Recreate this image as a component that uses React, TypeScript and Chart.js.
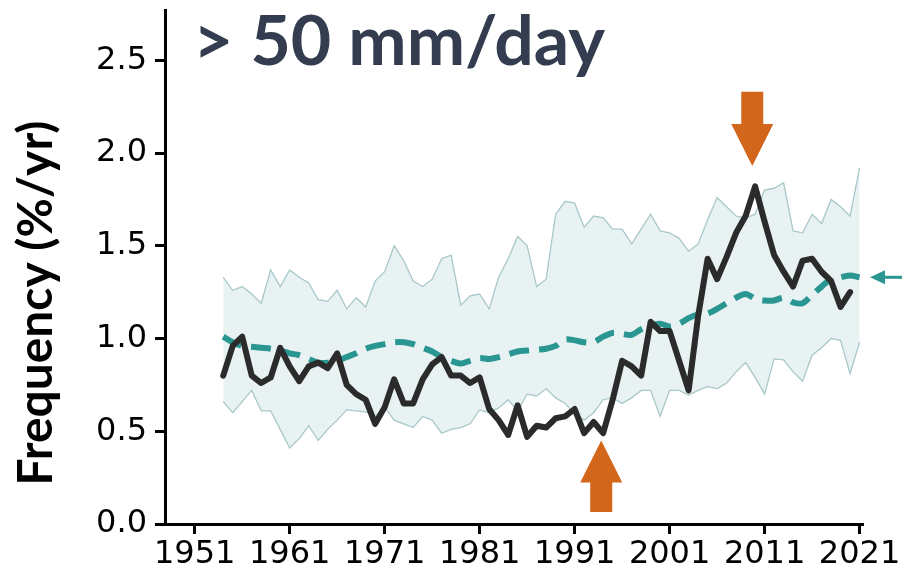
import React, { useEffect, useRef } from 'react';
import { Chart, registerables } from 'chart.js';

Chart.register(...registerables);

// ---------- data ----------
const bandYears = [
  1954, 1955, 1956, 1957, 1958, 1959, 1960, 1961, 1962, 1963,
  1964, 1965, 1966, 1967, 1968, 1969, 1970, 1971, 1972, 1973,
  1974, 1975, 1976, 1977, 1978, 1979, 1980, 1981, 1982, 1983,
  1984, 1985, 1986, 1987, 1988, 1989, 1990, 1991, 1992, 1993,
  1994, 1995, 1996, 1997, 1998, 1999, 2000, 2001, 2002, 2003,
  2004, 2005, 2006, 2007, 2008, 2009, 2010, 2011, 2012, 2013,
  2014, 2015, 2016, 2017, 2018, 2019, 2020, 2021,
];

const observedYears = [
  1954, 1955, 1956, 1957, 1958, 1959, 1960, 1961, 1962, 1963,
  1964, 1965, 1966, 1967, 1968, 1969, 1970, 1971, 1972, 1973,
  1974, 1975, 1976, 1977, 1978, 1979, 1980, 1981, 1982, 1983,
  1984, 1985, 1986, 1987, 1988, 1989, 1990, 1991, 1992, 1993,
  1994, 1995, 1996, 1997, 1998, 1999, 2000, 2001, 2002, 2003,
  2004, 2005, 2006, 2007, 2008, 2009, 2010, 2011, 2012, 2013,
  2014, 2015, 2016, 2017, 2018, 2019, 2020,
];

const bandUpper = [
  1.33, 1.26, 1.28, 1.24, 1.19, 1.37, 1.28, 1.37, 1.33, 1.30,
  1.21, 1.20, 1.26, 1.16, 1.22, 1.17, 1.31, 1.36, 1.50, 1.42,
  1.31, 1.28, 1.32, 1.43, 1.45, 1.18, 1.23, 1.24, 1.16, 1.33,
  1.43, 1.55, 1.50, 1.28, 1.32, 1.67, 1.74, 1.73, 1.60, 1.66,
  1.65, 1.59, 1.59, 1.51, 1.59, 1.67, 1.58, 1.57, 1.54, 1.47,
  1.51, 1.64, 1.76, 1.71, 1.66, 1.65, 1.67, 1.80, 1.81, 1.84,
  1.58, 1.57, 1.67, 1.62, 1.75, 1.71, 1.66, 1.92,
];

const bandLower = [
  0.66, 0.60, 0.66, 0.72, 0.61, 0.61, 0.51, 0.41, 0.46, 0.53,
  0.45, 0.51, 0.56, 0.615, 0.61, 0.605, 0.58, 0.63, 0.56, 0.54,
  0.52, 0.58, 0.56, 0.49, 0.51, 0.52, 0.54, 0.615, 0.60, 0.625,
  0.67, 0.61, 0.70, 0.69, 0.73, 0.68, 0.65, 0.59, 0.56, 0.60,
  0.67, 0.68, 0.65, 0.68, 0.72, 0.72, 0.58, 0.72, 0.72, 0.695,
  0.72, 0.74, 0.73, 0.76, 0.82, 0.87, 0.79, 0.70, 0.89, 0.885,
  0.82, 0.77, 0.91, 0.95, 1.00, 0.99, 0.81, 0.98,
];

const modelMedian = [
  1.01, 0.98, 0.96, 0.955, 0.95, 0.945, 0.935, 0.92, 0.91, 0.89,
  0.87, 0.87, 0.88, 0.90, 0.92, 0.945, 0.96, 0.97, 0.98, 0.98,
  0.97, 0.95, 0.93, 0.90, 0.88, 0.865, 0.88, 0.895, 0.89, 0.90,
  0.915, 0.93, 0.935, 0.94, 0.945, 0.96, 0.995, 0.99, 0.98, 0.98,
  1.01, 1.03, 1.025, 1.02, 1.05, 1.07, 1.08, 1.065, 1.08, 1.11,
  1.13, 1.135, 1.16, 1.19, 1.22, 1.24, 1.215, 1.205, 1.205, 1.22,
  1.195, 1.19, 1.235, 1.28, 1.32, 1.33, 1.34, 1.33,
];

const observed = [
  0.80, 0.96, 1.01, 0.80, 0.76, 0.79, 0.95, 0.85, 0.77, 0.85,
  0.87, 0.84, 0.92, 0.75, 0.70, 0.67, 0.54, 0.63, 0.78, 0.65,
  0.65, 0.78, 0.86, 0.90, 0.80, 0.80, 0.76, 0.79, 0.62, 0.56,
  0.48, 0.64, 0.47, 0.53, 0.52, 0.57, 0.58, 0.62, 0.49, 0.55,
  0.49, 0.67, 0.88, 0.85, 0.80, 1.09, 1.04, 1.04, 0.88, 0.72,
  1.12, 1.43, 1.32, 1.44, 1.57, 1.66, 1.82, 1.63, 1.45, 1.36,
  1.28, 1.42, 1.43, 1.36, 1.31, 1.17, 1.25,
];

const xTickYears = [1951, 1961, 1971, 1981, 1991, 2001, 2011, 2021];
const yTickValues = [0, 0.5, 1.0, 1.5, 2.0, 2.5];

const titleText = '> 50 mm/day';
const yAxisTitle = 'Frequency (%/yr)';

// annotation anchors (data units)
const upArrow = { year: 1993.8, tip: 0.45, tail: 0.065 };
const downArrow = { year: 2009.7, tip: 1.93, tail: 2.33 };
const sideArrowValue = 1.33;

// ---------- styles ----------
const TEAL = '#2a9692';
const BLACK = '#2b2b2b';
const BAND_FILL = '#e8f2f3';
const BAND_EDGE = '#a9c8c8';
const ORANGE = '#d2661a';
const TITLE_COLOR = '#333d4f';
const TEXT_FAMILY = 'Lato, "DejaVu Sans", sans-serif';
const TICK_FAMILY = '"DejaVu Sans", sans-serif';

function fitFont(ctx: CanvasRenderingContext2D, text: string, family: string, targetW: number) {
  ctx.font = `bold 50px ${family}`;
  const w = ctx.measureText(text).width;
  return (50 * targetW) / w;
}

function blockArrow(ctx: CanvasRenderingContext2D, cx: number, tipY: number, tailY: number) {
  const dir = tailY > tipY ? 1 : -1; // 1: pointing up
  const headLen = 42;
  const headHalf = 21;
  const shaftHalf = 11;
  const baseY = tipY + dir * headLen;
  ctx.beginPath();
  ctx.moveTo(cx, tipY);
  ctx.lineTo(cx + headHalf, baseY);
  ctx.lineTo(cx + shaftHalf, baseY);
  ctx.lineTo(cx + shaftHalf, tailY);
  ctx.lineTo(cx - shaftHalf, tailY);
  ctx.lineTo(cx - shaftHalf, baseY);
  ctx.lineTo(cx - headHalf, baseY);
  ctx.closePath();
  ctx.fill();
}

const annotations = {
  id: 'annotations',
  afterDraw(chart: any) {
    const { ctx, chartArea, scales } = chart;
    const x = scales.x;
    const y = scales.y;
    ctx.save();

    // title
    const tSize = fitFont(ctx, titleText, TEXT_FAMILY, 412);
    ctx.font = `bold ${tSize}px ${TEXT_FAMILY}`;
    ctx.fillStyle = TITLE_COLOR;
    ctx.textAlign = 'left';
    ctx.textBaseline = 'alphabetic';
    ctx.fillText(titleText, 193, 65);

    // y axis title
    const ySize = fitFont(ctx, yAxisTitle, TEXT_FAMILY, 365);
    ctx.save();
    ctx.translate(52, 303);
    ctx.rotate(-Math.PI / 2);
    ctx.font = `bold ${ySize}px ${TEXT_FAMILY}`;
    ctx.fillStyle = '#000';
    ctx.textAlign = 'center';
    ctx.textBaseline = 'alphabetic';
    ctx.fillText(yAxisTitle, 0, 0);
    ctx.restore();

    // orange arrows
    ctx.fillStyle = ORANGE;
    blockArrow(ctx, x.getPixelForValue(upArrow.year), y.getPixelForValue(upArrow.tip), y.getPixelForValue(upArrow.tail));
    blockArrow(ctx, x.getPixelForValue(downArrow.year), y.getPixelForValue(downArrow.tip), y.getPixelForValue(downArrow.tail));

    // small teal arrow on the right
    const ay = y.getPixelForValue(sideArrowValue);
    const tipX = chartArea.right + 7;
    ctx.fillStyle = TEAL;
    ctx.strokeStyle = TEAL;
    ctx.beginPath();
    ctx.moveTo(tipX, ay);
    ctx.lineTo(tipX + 15, ay - 7);
    ctx.lineTo(tipX + 15, ay + 7);
    ctx.closePath();
    ctx.fill();
    ctx.lineWidth = 3;
    ctx.beginPath();
    ctx.moveTo(tipX + 12, ay);
    ctx.lineTo(tipX + 32, ay);
    ctx.stroke();

    ctx.restore();
  },
};

export default function App() {
  const canvasRef = useRef<HTMLCanvasElement | null>(null);

  useEffect(() => {
    const canvas = canvasRef.current;
    if (!canvas) return;
    const toPts = (xs: number[], ys: number[]) => xs.map((v, i) => ({ x: v, y: ys[i] }));

    const chart = new Chart(canvas, {
      type: 'line',
      data: {
        datasets: [
          {
            label: 'Observed',
            data: toPts(observedYears, observed),
            borderColor: BLACK,
            borderWidth: 6,
            pointRadius: 0,
            fill: false,
            tension: 0,
            borderJoinStyle: 'round',
            borderCapStyle: 'round',
            order: 0,
          },
          {
            label: 'Model median',
            data: toPts(bandYears, modelMedian),
            borderColor: TEAL,
            borderWidth: 6,
            borderDash: [20, 10],
            pointRadius: 0,
            fill: false,
            tension: 0.3,
            order: 1,
          },
          {
            label: 'Upper',
            data: toPts(bandYears, bandUpper),
            borderColor: BAND_EDGE,
            borderWidth: 1.3,
            backgroundColor: BAND_FILL,
            pointRadius: 0,
            fill: '+1',
            tension: 0,
            order: 2,
          },
          {
            label: 'Lower',
            data: toPts(bandYears, bandLower),
            borderColor: BAND_EDGE,
            borderWidth: 1.3,
            pointRadius: 0,
            fill: false,
            tension: 0,
            order: 3,
          },
        ],
      },
      options: {
        responsive: false,
        animation: false,
        events: [],
        layout: { padding: { left: 0, right: 39, top: 10, bottom: 0 } },
        plugins: {
          legend: { display: false },
          tooltip: { enabled: false },
          filler: { drawTime: 'beforeDatasetsDraw' },
        },
        scales: {
          x: {
            type: 'linear',
            min: 1947.87,
            max: 2021.36,
            afterBuildTicks: (scale: any) => {
              scale.ticks = xTickYears.map((v) => ({ value: v }));
            },
            afterFit: (scale: any) => {
              scale.height = 50;
              scale.paddingLeft = 0;
              scale.paddingRight = 0;
            },
            ticks: {
              autoSkip: false,
              maxRotation: 0,
              padding: 1,
              color: '#000',
              font: { family: TICK_FAMILY, size: 32 },
              callback: (v: any) => String(v),
            },
            grid: {
              display: true,
              drawOnChartArea: false,
              drawTicks: true,
              tickLength: 10,
              tickWidth: 3,
              tickColor: '#000',
            },
            border: { display: true, color: '#000', width: 3 },
          },
          y: {
            type: 'linear',
            min: 0,
            max: 2.771,
            afterBuildTicks: (scale: any) => {
              scale.ticks = yTickValues.map((v) => ({ value: v }));
            },
            afterFit: (scale: any) => {
              scale.width = 165;
              scale.paddingTop = 0;
              scale.paddingBottom = 0;
            },
            ticks: {
              padding: 8,
              color: '#000',
              font: { family: TICK_FAMILY, size: 32 },
              callback: (v: any) => Number(v).toFixed(1),
            },
            grid: {
              display: true,
              drawOnChartArea: false,
              drawTicks: true,
              tickLength: 10,
              tickWidth: 3,
              tickColor: '#000',
            },
            border: { display: true, color: '#000', width: 3 },
          },
        },
      },
      plugins: [annotations],
    });

    return () => chart.destroy();
  }, []);

  return (
    <div style={{ position: 'absolute', left: 0, top: 0, width: 902, height: 574, background: '#fff' }}>
      <canvas ref={canvasRef} width={902} height={574} />
    </div>
  );
}
